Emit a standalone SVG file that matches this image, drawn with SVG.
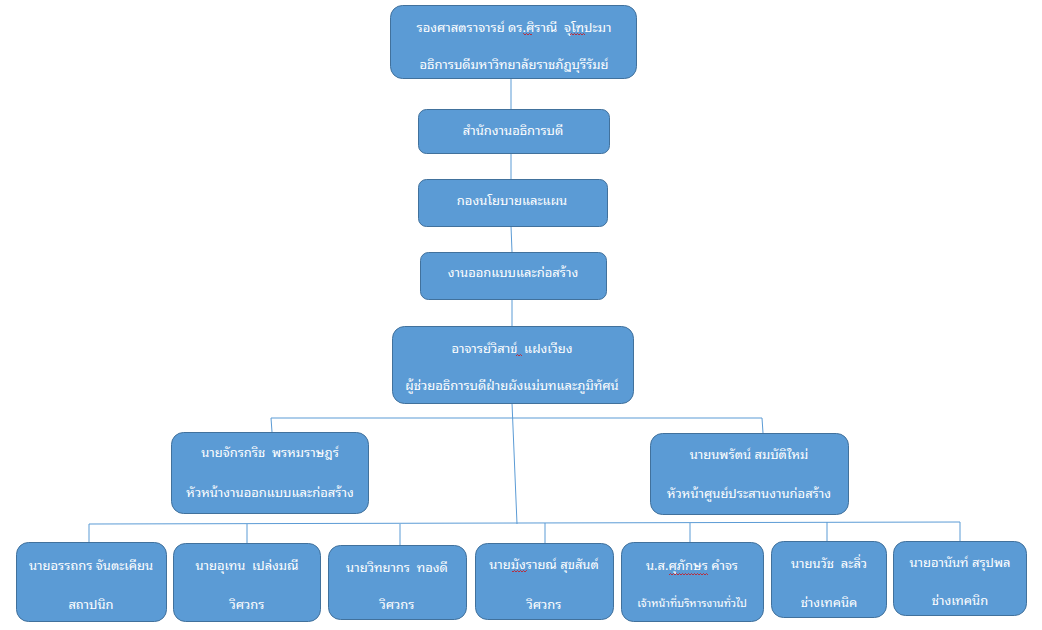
<svg xmlns="http://www.w3.org/2000/svg" width="1042" height="630" viewBox="0 0 1042 630">
<style>
.box{fill:#5B9BD5;stroke:#41719C;stroke-width:1}
.t{font-family:"Tahoma","Leelawadee UI","Noto Sans Thai Looped","Noto Sans Thai","Noto Sans","DejaVu Sans",sans-serif;font-size:13px;fill:#FFFFFF;text-anchor:middle;white-space:pre}
.s{font-size:11px}
.c{fill:none;stroke:#5B9BD5;stroke-width:1}
.sq{fill:none;stroke:#E00000;stroke-width:0.8}
</style>
<defs>
<pattern id="wave" width="3" height="3" patternUnits="userSpaceOnUse">
<path d="M0,2 L1.5,0.5 L3,2" fill="none" stroke="#E00000" stroke-width="0.7"/>
</pattern>
</defs>
<rect width="1042" height="630" fill="#FFFFFF"/>
<g id="connectors">
<line class="c" x1="511" y1="78" x2="511" y2="109"/>
<line class="c" x1="511" y1="153" x2="511" y2="179"/>
<line class="c" x1="511" y1="226" x2="512" y2="252"/>
<line class="c" x1="512" y1="299" x2="512" y2="326"/>
<line class="c" x1="512" y1="403" x2="517" y2="524"/>
<polyline class="c" points="272,432 271,418 762,418 763,433"/>
<polyline class="c" points="89,542 89,524 960,522 960,541"/>
<line class="c" x1="247" y1="524" x2="247" y2="543"/>
<line class="c" x1="400" y1="524" x2="400" y2="545"/>
<line class="c" x1="545" y1="523" x2="545" y2="543"/>
<line class="c" x1="690" y1="523" x2="690" y2="542"/>
<line class="c" x1="827" y1="522" x2="827" y2="541"/>
</g>
<g id="n1"><rect class="box" x="390.5" y="5.5" width="246" height="73" rx="12"/>
<text class="t" x="514" y="32">รองศาสตราจารย์ ดร.ศิราณี  จุโฑปะมา</text>
<text class="t" x="514" y="69">อธิการบดีมหาวิทยาลัยราชภัฏบุรีรัมย์</text>
<rect x="523" y="33" width="9" height="3" fill="url(#wave)"/>
<rect x="570" y="33" width="15" height="3" fill="url(#wave)"/></g>
<g id="n2"><rect class="box" x="418.5" y="109.5" width="191" height="44" rx="8"/>
<text class="t" x="513" y="135">สำนักงานอธิการบดี</text></g>
<g id="n3"><rect class="box" x="418.5" y="179.5" width="189" height="47" rx="8"/>
<text class="t" x="512" y="205">กองนโยบายและแผน</text></g>
<g id="n4"><rect class="box" x="420.5" y="252.5" width="186" height="47" rx="8"/>
<text class="t" x="513" y="277">งานออกแบบและก่อสร้าง</text></g>
<g id="n5"><rect class="box" x="392.5" y="326.5" width="241" height="77" rx="12"/>
<text class="t" x="512" y="353">อาจารย์วิสาข์  แฝงเวียง</text>
<text class="t" x="512" y="390">ผู้ช่วยอธิการบดีฝ่ายผังแม่บทและภูมิทัศน์</text>
<rect x="516" y="353" width="6" height="3" fill="url(#wave)"/></g>
<g id="n6"><rect class="box" x="171.5" y="432.5" width="197" height="81" rx="12"/>
<text class="t" x="270" y="457">นายจักรกริช  พรหมราษฎร์</text>
<text class="t" x="270" y="497">หัวหน้างานออกแบบและก่อสร้าง</text></g>
<g id="n7"><rect class="box" x="650.5" y="433.5" width="198" height="81" rx="12"/>
<text class="t" x="749" y="459">นายนพรัตน์ สมบัติใหม่</text>
<text class="t" x="749" y="498">หัวหน้าศูนย์ประสานงานก่อสร้าง</text></g>
<g id="n8"><rect class="box" x="16.5" y="542.5" width="150" height="79" rx="12"/>
<text class="t" x="91" y="570">นายอรรถกร จันตะเคียน</text>
<text class="t" x="91" y="609">สถาปนิก</text></g>
<g id="n9"><rect class="box" x="173.5" y="543.5" width="147" height="78" rx="12"/>
<text class="t" x="247" y="570">นายอุเทน  เปล่งมณี</text>
<text class="t" x="247" y="609">วิศวกร</text></g>
<g id="n10"><rect class="box" x="328.5" y="545.5" width="138" height="74" rx="12"/>
<text class="t" x="397" y="572">นายวิทยากร  ทองดี</text>
<text class="t" x="397" y="609">วิศวกร</text></g>
<g id="n11"><rect class="box" x="475.5" y="543.5" width="138" height="76" rx="12"/>
<text class="t" x="544" y="569">นายมังรายณ์ สุขสันต์</text>
<text class="t" x="544" y="609">วิศวกร</text>
<rect x="512" y="570" width="15" height="3" fill="url(#wave)"/></g>
<g id="n12"><rect class="box" x="621.5" y="542.5" width="142" height="79" rx="12"/>
<text class="t" x="692" y="570">น.ส.ศุภักษร คำจร</text>
<text class="t s" x="692" y="607">เจ้าหน้าที่บริหารงานทั่วไป</text>
<rect x="669" y="572" width="39" height="3" fill="url(#wave)"/></g>
<g id="n13"><rect class="box" x="771.5" y="541.5" width="115" height="76" rx="12"/>
<text class="t" x="829" y="568">นายนวัช  ละลิ่ว</text>
<text class="t" x="829" y="607">ช่างเทคนิค</text></g>
<g id="n14"><rect class="box" x="893.5" y="541.5" width="133" height="74" rx="12"/>
<text class="t" x="960" y="567">นายอานันท์ สรุปพล</text>
<text class="t" x="960" y="605">ช่างเทคนิก</text></g>
</svg>
